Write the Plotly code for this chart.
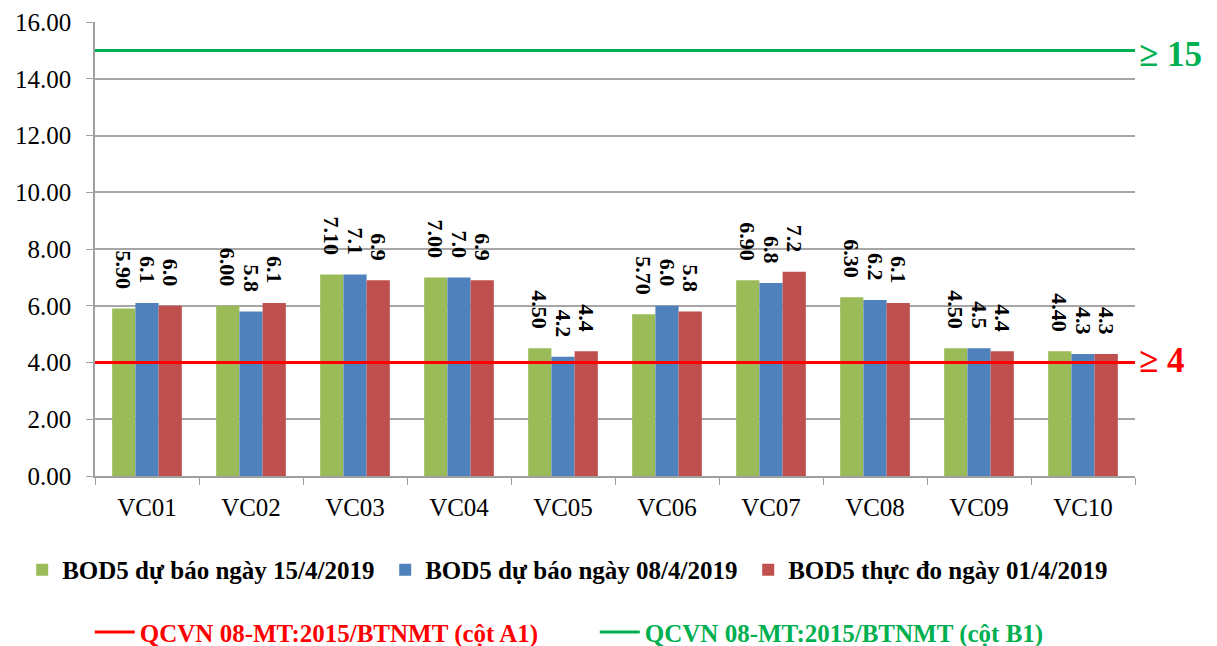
import plotly.graph_objects as go

categories = ["VC01", "VC02", "VC03", "VC04", "VC05", "VC06", "VC07", "VC08", "VC09", "VC10"]
forecast_15_04 = [5.90, 6.00, 7.10, 7.00, 4.50, 5.70, 6.90, 6.30, 4.50, 4.40]
forecast_08_04 = [6.1, 5.8, 7.1, 7.0, 4.2, 6.0, 6.8, 6.2, 4.5, 4.3]
measured_01_04 = [6.0, 6.1, 6.9, 6.9, 4.4, 5.8, 7.2, 6.1, 4.4, 4.3]
series_names = ["BOD5 dự báo ngày 15/4/2019", "BOD5 dự báo ngày 08/4/2019", "BOD5 thực đo ngày 01/4/2019"]
limit_a1 = 4.0
limit_b1 = 15.0
limit_names = ["QCVN 08-MT:2015/BTNMT (cột A1)", "QCVN 08-MT:2015/BTNMT (cột B1)"]
y_ticks = [0, 2, 4, 6, 8, 10, 12, 14, 16]

FONT = "Liberation Serif"
bar_colors = ["#9BBB59", "#4F81BD", "#C0504D"]
PAD = "\u00a0\u00a0\u00a0"

fig = go.Figure()
for vals, name, col, fmt in [
    (forecast_15_04, series_names[0], bar_colors[0], "{:.2f}"),
    (forecast_08_04, series_names[1], bar_colors[1], "{:.1f}"),
    (measured_01_04, series_names[2], bar_colors[2], "{:.1f}"),
]:
    fig.add_trace(go.Bar(
        x=categories, y=vals, name=name, marker=dict(color=col, line=dict(width=0)),
        text=[fmt.format(v) + PAD for v in vals], textposition="outside", textangle=90,
        constraintext="none", cliponaxis=False,
        textfont=dict(family=FONT, size=22, color="black", weight="bold"),
        legend="legend",
    ))

for val, name, col in [(limit_a1, limit_names[0], "#FF0000"), (limit_b1, limit_names[1], "#00B050")]:
    fig.add_trace(go.Scatter(
        x=[0, 1], y=[val, val], mode="lines", xaxis="x2",
        line=dict(color=col, width=3),
        name=f"<span style='color:{col}'>{name}</span>",
        legend="legend2",
    ))

fig.add_annotation(x=1.0, y=limit_b1, xref="paper", yref="y", text="≥ 15", showarrow=False,
                   xanchor="left", xshift=2, yshift=-4, font=dict(family=FONT, size=35, color="#00B050", weight="bold"))
fig.add_annotation(x=1.0, y=limit_a1, xref="paper", yref="y", text="≥ 4", showarrow=False,
                   xanchor="left", xshift=2, yshift=2, font=dict(family=FONT, size=35, color="#FF0000", weight="bold"))

fig.update_layout(
    width=1217, height=646,
    margin=dict(l=87, r=90, t=14, b=178, autoexpand=False),
    plot_bgcolor="white", paper_bgcolor="white",
    barmode="group", bargap=0.33, bargroupgap=0,
    font=dict(family=FONT, color="black"),
    xaxis=dict(type="category", showline=True, linecolor="#A0A0A0", linewidth=1.5,
               ticks="outside", tickson="boundaries", ticklen=7, tickcolor="#A0A0A0",
               ticklabelstandoff=8,
               showgrid=False, automargin=False, tickfont=dict(family=FONT, size=25, color="black")),
    xaxis2=dict(overlaying="x", range=[0, 1], visible=False, fixedrange=True),
    yaxis=dict(range=[0, 16], tickvals=y_ticks, tickformat=".2f", showgrid=True, automargin=False,
               gridcolor="#A6A6A6", gridwidth=1.5, showline=True, linecolor="#A0A0A0", linewidth=1.5,
               ticks="outside", ticklen=7, tickcolor="#A0A0A0", zeroline=False, ticklabelstandoff=10,
               tickfont=dict(family=FONT, size=25, color="black")),
    legend=dict(orientation="h", x=-0.07, xanchor="left", y=-0.207, yanchor="middle",
                font=dict(family=FONT, size=25, color="black", weight="bold"),
                itemwidth=30, entrywidth=318, traceorder="normal"),
    legend2=dict(orientation="h", x=-0.005, xanchor="left", y=-0.344, yanchor="middle",
                 font=dict(family=FONT, size=25, weight="bold"), itemwidth=40, entrywidth=450),
    showlegend=True,
)

fig.write_html("out.html")
